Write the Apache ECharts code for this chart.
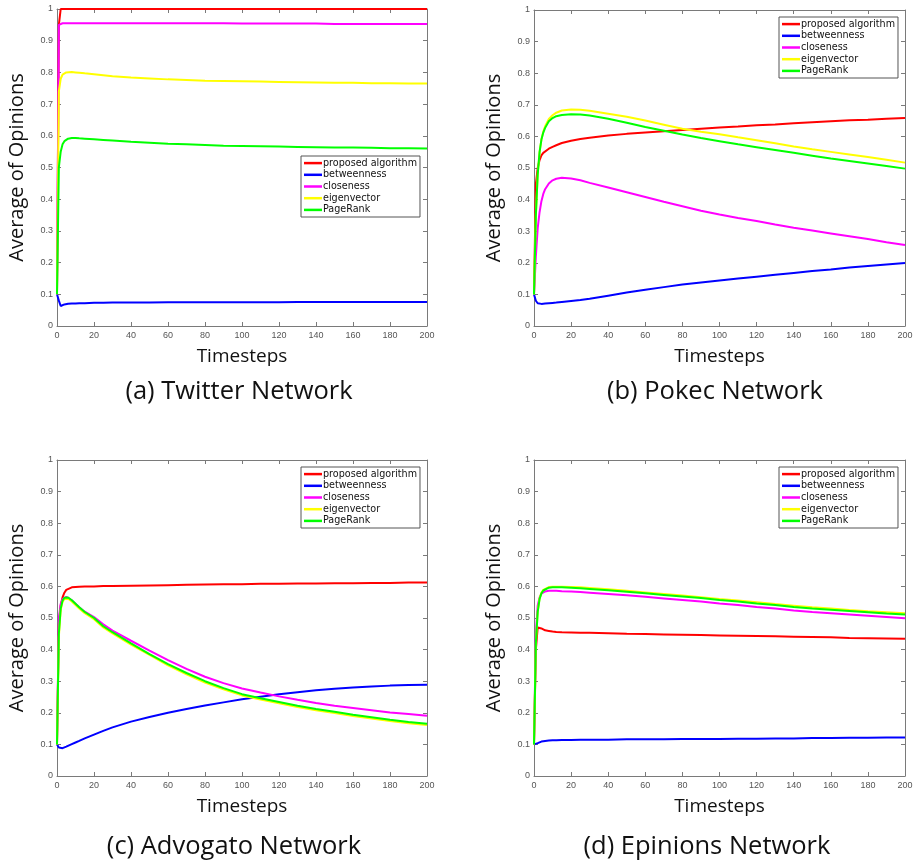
<!DOCTYPE html>
<html>
<head>
<meta charset="utf-8">
<script src="https://cdn.jsdelivr.net/npm/echarts@6/dist/echarts.min.js"></script>
<style>html,body{margin:0;padding:0;background:#fff}#chart{width:917px;height:864px}</style>
</head>
<body>
<div id="chart"></div>
<script>
// ---- data ----
var timesteps = [0,1,2,3,4,5,6,8,10,12,15,20,25,30,40,50,60,70,80,90,100,110,120,130,140,150,160,170,180,190,200];
var seriesNames = ['proposed algorithm','betweenness','closeness','eigenvector','PageRank'];
var xTicks = [0,20,40,60,80,100,120,140,160,180,200];
var yTicks = [0,0.1,0.2,0.3,0.4,0.5,0.6,0.7,0.8,0.9,1];
var captions = ['(a) Twitter Network','(b) Pokec Network','(c) Advogato Network','(d) Epinions Network'];

// (a) Twitter
var twitterProposed = [0.1,0.95,1,1,1,1,1,1,1,1,1,1,1,1,1,1,1,1,1,1,1,1,1,1,1,1,1,1,1,1,1];
var twitterBetweenness = [0.1,0.08,0.063,0.066,0.068,0.069,0.070,0.071,0.071,0.072,0.072,0.073,0.073,0.074,0.074,0.074,0.075,0.075,0.075,0.075,0.075,0.075,0.075,0.076,0.076,0.076,0.076,0.076,0.076,0.076,0.076];
var twitterCloseness = [0.1,0.95,0.955,0.955,0.955,0.955,0.955,0.955,0.955,0.955,0.955,0.955,0.955,0.955,0.955,0.955,0.955,0.955,0.955,0.955,0.954,0.954,0.954,0.954,0.954,0.953,0.953,0.953,0.953,0.953,0.953];
var twitterEigenvector = [0.1,0.74,0.78,0.793,0.798,0.800,0.801,0.801,0.800,0.799,0.797,0.794,0.791,0.788,0.784,0.781,0.778,0.776,0.774,0.773,0.772,0.771,0.770,0.769,0.768,0.767,0.767,0.766,0.766,0.765,0.765];
var twitterPageRank = [0.1,0.50,0.55,0.573,0.583,0.588,0.591,0.593,0.593,0.592,0.591,0.589,0.587,0.585,0.581,0.578,0.575,0.573,0.571,0.569,0.568,0.567,0.566,0.565,0.564,0.563,0.563,0.562,0.561,0.561,0.560];

// (b) Pokec
var pokecProposed = [0.1,0.45,0.50,0.525,0.54,0.548,0.553,0.561,0.567,0.572,0.579,0.586,0.592,0.596,0.603,0.608,0.612,0.616,0.620,0.624,0.628,0.631,0.635,0.638,0.642,0.645,0.648,0.651,0.653,0.656,0.658];
var pokecBetweenness = [0.1,0.08,0.072,0.070,0.070,0.070,0.071,0.072,0.073,0.074,0.076,0.079,0.082,0.086,0.096,0.106,0.115,0.123,0.131,0.138,0.144,0.150,0.156,0.162,0.168,0.174,0.179,0.185,0.190,0.195,0.199];
var pokecCloseness = [0.1,0.22,0.31,0.36,0.395,0.418,0.433,0.451,0.461,0.466,0.469,0.467,0.461,0.453,0.438,0.423,0.408,0.393,0.379,0.365,0.353,0.342,0.332,0.321,0.311,0.302,0.293,0.284,0.275,0.265,0.256];
var pokecEigenvector = [0.1,0.35,0.48,0.55,0.59,0.615,0.632,0.655,0.667,0.675,0.682,0.685,0.684,0.681,0.672,0.662,0.650,0.637,0.624,0.615,0.607,0.597,0.588,0.578,0.568,0.559,0.551,0.543,0.535,0.526,0.517];
var pokecPageRank = [0.1,0.35,0.48,0.55,0.59,0.612,0.627,0.648,0.658,0.664,0.668,0.670,0.669,0.666,0.656,0.643,0.630,0.618,0.606,0.595,0.585,0.575,0.566,0.557,0.548,0.539,0.530,0.522,0.514,0.506,0.498];

// (c) Advogato
var advogatoProposed = [0.1,0.48,0.54,0.565,0.58,0.589,0.594,0.597,0.598,0.599,0.600,0.600,0.601,0.601,0.602,0.603,0.604,0.605,0.606,0.607,0.607,0.608,0.608,0.609,0.609,0.610,0.610,0.611,0.611,0.612,0.612];
var advogatoBetweenness = [0.1,0.09,0.086,0.088,0.090,0.093,0.096,0.101,0.106,0.111,0.119,0.131,0.143,0.154,0.172,0.187,0.200,0.212,0.223,0.233,0.243,0.251,0.259,0.265,0.271,0.276,0.280,0.283,0.286,0.288,0.289];
var advogatoCloseness = [0.1,0.5,0.545,0.56,0.566,0.567,0.565,0.556,0.545,0.534,0.520,0.503,0.480,0.460,0.428,0.397,0.367,0.339,0.314,0.294,0.277,0.264,0.252,0.241,0.231,0.222,0.215,0.208,0.201,0.196,0.191];
var advogatoEigenvector = [0.1,0.44,0.525,0.551,0.560,0.563,0.561,0.552,0.541,0.530,0.515,0.496,0.470,0.451,0.416,0.383,0.350,0.322,0.296,0.274,0.255,0.242,0.230,0.218,0.208,0.199,0.190,0.182,0.174,0.167,0.161];
var advogatoPageRank = [0.1,0.45,0.53,0.555,0.564,0.567,0.565,0.556,0.545,0.534,0.519,0.500,0.474,0.455,0.420,0.386,0.354,0.326,0.300,0.278,0.259,0.246,0.234,0.222,0.212,0.203,0.194,0.186,0.178,0.171,0.165];

// (d) Epinions
var epinionsProposed = [0.1,0.40,0.47,0.47,0.467,0.463,0.461,0.459,0.457,0.456,0.455,0.454,0.453,0.453,0.452,0.450,0.449,0.448,0.447,0.446,0.445,0.444,0.443,0.442,0.441,0.440,0.439,0.437,0.436,0.435,0.434];
var epinionsBetweenness = [0.1,0.1,0.104,0.107,0.109,0.110,0.111,0.112,0.113,0.113,0.114,0.114,0.115,0.115,0.115,0.116,0.116,0.116,0.117,0.117,0.117,0.118,0.118,0.119,0.119,0.120,0.120,0.121,0.121,0.122,0.122];
var epinionsCloseness = [0.1,0.45,0.54,0.565,0.577,0.582,0.584,0.586,0.586,0.586,0.585,0.584,0.582,0.580,0.576,0.572,0.567,0.562,0.557,0.552,0.546,0.541,0.535,0.530,0.524,0.519,0.515,0.511,0.507,0.503,0.499];
var epinionsEigenvector = [0.1,0.42,0.52,0.562,0.580,0.589,0.594,0.598,0.599,0.599,0.599,0.598,0.597,0.595,0.591,0.586,0.581,0.576,0.571,0.566,0.560,0.555,0.550,0.544,0.539,0.534,0.530,0.525,0.521,0.518,0.515];
var epinionsPageRank = [0.1,0.42,0.52,0.560,0.578,0.587,0.592,0.596,0.597,0.597,0.597,0.596,0.594,0.592,0.588,0.583,0.578,0.573,0.568,0.563,0.557,0.552,0.546,0.541,0.535,0.530,0.526,0.522,0.518,0.514,0.511];

var panels = [
  [twitterProposed, twitterBetweenness, twitterCloseness, twitterEigenvector, twitterPageRank],
  [pokecProposed, pokecBetweenness, pokecCloseness, pokecEigenvector, pokecPageRank],
  [advogatoProposed, advogatoBetweenness, advogatoCloseness, advogatoEigenvector, advogatoPageRank],
  [epinionsProposed, epinionsBetweenness, epinionsCloseness, epinionsEigenvector, epinionsPageRank]
];

// ---- layout / style ----
var colors = ['#ff0000','#0000ff','#ff00ff','#ffff00','#00ff00'];
var gridRects = [
  {left:57, top:9, width:370, height:317},
  {left:534, top:10, width:371, height:316},
  {left:57, top:460, width:370, height:316},
  {left:534, top:460, width:371, height:316}
];
var legendPos = [
  {left:301, top:156},
  {left:779, top:17},
  {left:301, top:467},
  {left:779, top:467}
];
var captionPos = [[239,392],[715,392],[234,847],[707,847]];

var axisColor = '#7a7a7a';
var labelColor = '#555';
var grids = [], xAxes = [], yAxes = [], series = [], legends = [], graphics = [];

gridRects.forEach(function (g, i) {
  grids.push({left:g.left, top:g.top, width:g.width, height:g.height, containLabel:false});
  var common = {
    gridIndex:i, type:'value', min:0,
    axisLine:{show:true, onZero:false, lineStyle:{color:axisColor, width:1}},
    axisTick:{show:true, inside:true, length:4, lineStyle:{color:axisColor}},
    splitLine:{show:false}
  };
  xAxes.push(Object.assign({}, common, {
    position:'bottom', max:200, interval:20,
    axisLabel:{show:true, fontSize:9, color:labelColor, fontFamily:'Liberation Sans', margin:5,
      formatter:function(v){return xTicks.indexOf(v)>=0 ? String(v) : '';}},
    name:'Timesteps', nameLocation:'middle', nameGap:21,
    nameTextStyle:{fontSize:19, fontFamily:'Open Sans', color:'#111'}
  }));
  xAxes.push(Object.assign({}, common, {position:'top', max:200, interval:20, axisLabel:{show:false}}));
  yAxes.push(Object.assign({}, common, {
    position:'left', max:1, interval:0.1,
    axisLabel:{show:true, fontSize:9, color:labelColor, fontFamily:'Liberation Sans', margin:4,
      formatter:function(v){var r=Math.round(v*10)/10; return yTicks.indexOf(r)>=0 ? String(r) : '';}},
    name:'Average of Opinions', nameLocation:'middle', nameGap:30,
    nameTextStyle:{fontSize:20, fontFamily:'Open Sans', color:'#111'}
  }));
  yAxes.push(Object.assign({}, common, {position:'right', max:1, interval:0.1, axisLabel:{show:false}}));

  panels[i].forEach(function (vals, k) {
    series.push({
      type:'line', name:seriesNames[k], xAxisIndex:2*i, yAxisIndex:2*i,
      data: timesteps.map(function(t, j){return [t, vals[j]];}),
      showSymbol:false, symbol:'none', smooth:false,
      lineStyle:{color:colors[k], width:2}, itemStyle:{color:colors[k]},
      z: 2 + k
    });
  });

  legends.push({
    orient:'vertical', left:legendPos[i].left, top:legendPos[i].top,
    data:seriesNames, icon:'rect', itemWidth:18, itemHeight:2.5, itemGap:1.5,
    padding:[2,3,2,3], borderColor:'#555', borderWidth:1, backgroundColor:'#fff',
    selectedMode:false,
    textStyle:{fontSize:9.6, fontFamily:'DejaVu Sans', color:'#111', lineHeight:10.2, padding:[0,0,0,-4]}
  });

  graphics.push({
    type:'text', x:captionPos[i][0], y:captionPos[i][1],
    style:{text:captions[i], font:'25.5px "Open Sans"', fill:'#111', textAlign:'center', textVerticalAlign:'middle'}
  });
});

var chart = echarts.init(document.getElementById('chart'), null, {renderer:'canvas'});
chart.setOption({
  animation:false,
  backgroundColor:'#fff',
  grid:grids, xAxis:xAxes, yAxis:yAxes, series:series, legend:legends, graphic:graphics
});
</script>
</body>
</html>
